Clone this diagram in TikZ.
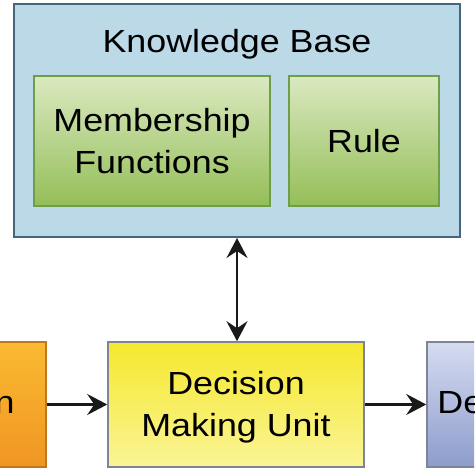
\documentclass[tikz,border=0pt]{standalone}
\usepackage{fontspec}
\setmainfont{Liberation Sans}[FakeStretch=1.12]
\usepackage{xcolor}
\usetikzlibrary{arrows.meta, positioning}

\definecolor{kbfill}{RGB}{187,217,230}
\definecolor{kbline}{RGB}{72,102,122}
\definecolor{grtop}{RGB}{218,233,192}
\definecolor{grbot}{RGB}{148,190,88}
\definecolor{grline}{RGB}{110,158,72}
\definecolor{yetop}{RGB}{245,232,45}
\definecolor{yebot}{RGB}{250,244,150}
\definecolor{ortop}{RGB}{250,186,50}
\definecolor{orbot}{RGB}{240,150,35}
\definecolor{bltop}{RGB}{214,220,240}
\definecolor{blbot}{RGB}{140,156,204}
\definecolor{boxline}{RGB}{125,132,150}

\begin{document}
\begin{tikzpicture}[x=0.5pt, y=0.5pt,
  box/.style={draw, rectangle, inner sep=0pt, align=center,
    font=\fontsize{16}{21}\selectfont},
  tip/.tip={Stealth[length=10pt, width=10.5pt, inset=3.5pt]},
  flow/.style={line width=1.1pt, color=black!90, -tip}]
\useasboundingbox (0,0) rectangle (474,474);
\clip (0,0) rectangle (474,474);

% Outer (knowledge base)
\node[box, kbline, fill=kbfill, line width=1pt, minimum width=223pt, minimum height=116.5pt] (kb) at (237,353.5) {};
\node[anchor=base, font=\fontsize{16}{21}\selectfont] (kbtitle) at (237,421) {Knowledge Base};
% Inner (green)
\node[box, draw=grline, top color=grtop, bottom color=grbot, line width=0.8pt, minimum width=118pt, minimum height=65pt] (mf) at (152,333) {Membership\\Functions};
\node[box, draw=grline, top color=grtop, bottom color=grbot, line width=0.8pt, minimum width=75pt, minimum height=65pt] (rule) at (364,333) {Rule};

% Bottom row
\node[box, draw=boxline, top color=yetop, bottom color=yebot, line width=0.8pt, minimum width=128pt, minimum height=62.5pt] (dmu) at (236,69.5) {};
\node[align=center, font=\fontsize{16}{21}\selectfont] (dmutext) at ([yshift=-1.5pt]dmu.center) {Decision\\Making Unit};
\node[box, draw=orbot!80!black, top color=ortop, bottom color=orbot, line width=0.8pt, minimum width=98pt, minimum height=62.5pt] (fuzz) at (-52,69.5) {};
\node[box, draw=boxline, top color=bltop, bottom color=blbot, line width=0.8pt, minimum width=96.5pt, minimum height=62.5pt] (defuzz) at (523.5,69.5) {};
\node[anchor=base east, inner sep=0pt, font=\fontsize{16}{21}\selectfont] (fuzzlabel) at (15,60) {n};
\node[anchor=base west, inner sep=0pt, font=\fontsize{16}{21}\selectfont] (defuzzlabel) at (437,60) {De};

\draw[flow, tip-tip] (kb.south) -- (kb.south |- dmu.north);
\draw[flow] (fuzz.east) -- (dmu.west);
\draw[flow] (dmu.east) -- (defuzz.west);
\end{tikzpicture}
\end{document}
